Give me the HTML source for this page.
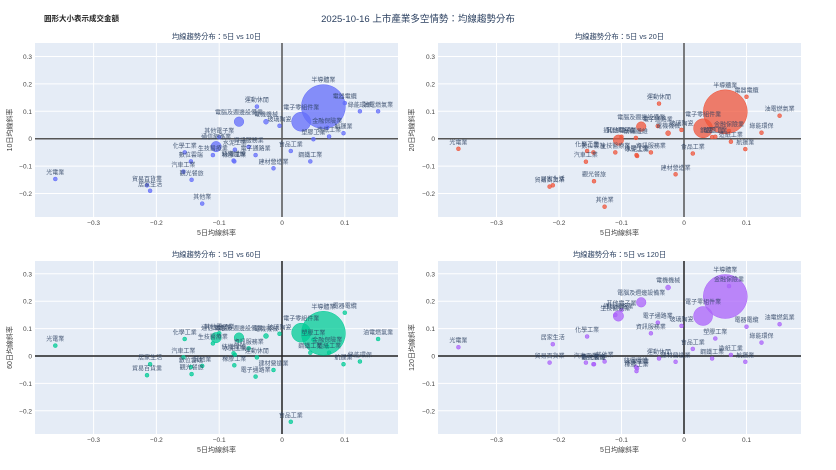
<!DOCTYPE html>
<html><head><meta charset="utf-8">
<style>
body{margin:0;background:#fff;}
svg{display:block;font-family:"Liberation Sans","Noto Sans CJK TC",sans-serif;}
</style></head>
<body>
<svg id="s" width="836" height="470" viewBox="0 0 836 470" xmlns="http://www.w3.org/2000/svg">
<text x="44" y="21" font-size="7.5" font-weight="bold" fill="#222">圓形大小表示成交金額</text>
<text x="418" y="22" font-size="9.5" fill="#2a3f5f" text-anchor="middle">2025-10-16 上市產業多空情勢：均線趨勢分布</text>
</svg>
<script>
var D=[
["半導體業",0.066,0.117,0.098,0.083,0.217,22],
["電子零組件業",0.0305,0.062,0.038,0.085,0.146,9.5],
["電腦及週邊設備業",-0.0685,0.062,0.044,0.067,0.196,4.8],
["通信網路業",-0.105,-0.029,-0.005,0.067,0.146,5.2],
["電機機械",-0.0255,0.062,0.02,0.073,0.25,2.5],
["金融保險業",0.072,0.04,0.028,0.035,0.255,2],
["電器電纜",0.1,0.13,0.153,0.158,0.107,2],
["油電燃氣業",0.153,0.1,0.084,0.062,0.116,2],
["綠能環保",0.124,0.1,0.022,-0.02,0.049,2],
["運動休閒",-0.04,0.117,0.128,-0.005,-0.009,2],
["玻璃陶瓷",-0.004,0.047,0.032,0.081,0.11,2],
["航運業",0.098,0.02,-0.038,-0.03,-0.021,2],
["造紙工業",0.075,0.008,-0.011,0.012,0.004,2],
["塑膠工業",0.05,-0.002,0.007,0.06,0.064,2],
["食品工業",0.014,-0.045,-0.054,-0.24,0.026,2],
["鋼鐵工業",0.045,-0.083,0.006,0.012,-0.009,2],
["建材營造業",-0.0135,-0.108,-0.13,-0.051,-0.021,2],
["電子通路業",-0.042,-0.06,0.046,-0.075,0.122,2],
["資訊服務業",-0.053,-0.03,-0.05,0.028,0.083,2],
["水泥工業",-0.075,-0.04,-0.063,0.004,-0.045,2],
["橡膠工業",-0.076,-0.083,-0.06,-0.034,-0.055,2],
["紡織纖維",-0.077,-0.08,0.003,0.01,-0.04,2],
["生技醫療業",-0.11,-0.06,-0.05,0.046,0.15,2],
["其他電子業",-0.1,0.005,0.007,0.083,0.168,2],
["化學工業",-0.155,-0.05,-0.045,0.062,0.071,2],
["數位雲端",-0.145,-0.083,-0.05,-0.04,-0.03,2],
["汽車工業",-0.157,-0.12,-0.084,-0.005,-0.024,2],
["觀光餐旅",-0.144,-0.15,-0.155,-0.066,-0.03,2],
["光電業",-0.361,-0.147,-0.037,0.038,0.032,2],
["貿易百貨業",-0.215,-0.17,-0.175,-0.07,-0.024,2],
["居家生活",-0.21,-0.19,-0.17,-0.03,0.043,2],
["其他業",-0.127,-0.237,-0.248,-0.036,-0.02,2]
];
var P=[
{x0:35,x1:398,xz:282,xs:628,y0:43,y1:217,yz:138.7,ys:274,c:"#636efa",t:"均線趨勢分布：5日 vs 10日",yl:"10日均線斜率",ylx:12,k:2,zc:"#555"},
{x0:438,x1:801,xz:684,xs:625,y0:43,y1:217,yz:138.7,ys:274,c:"#ef553b",t:"均線趨勢分布：5日 vs 20日",yl:"20日均線斜率",ylx:414,k:3,zc:"#555"},
{x0:35,x1:398,xz:282,xs:628,y0:261,y1:434,yz:356,ys:274,c:"#00cc96",t:"均線趨勢分布：5日 vs 60日",yl:"60日均線斜率",ylx:12,k:4,zc:"#222"},
{x0:438,x1:801,xz:684,xs:625,y0:261,y1:434,yz:356,ys:274,c:"#ab63fa",t:"均線趨勢分布：5日 vs 120日",yl:"120日均線斜率",ylx:414,k:5,zc:"#222"}
];
var h="";
P.forEach(function(p){
 h+='<rect x="'+p.x0+'" y="'+p.y0+'" width="'+(p.x1-p.x0)+'" height="'+(p.y1-p.y0)+'" fill="#e5ecf6"/>';
 [-0.3,-0.2,-0.1,0.1].forEach(function(v){var X=p.xz+v*p.xs;
  h+='<line x1="'+X+'" x2="'+X+'" y1="'+p.y0+'" y2="'+p.y1+'" stroke="#fff" stroke-width="1"/>';
  h+='<text x="'+X+'" y="'+(p.y1+8)+'" font-size="6.5" fill="#444" text-anchor="middle">'+(v<0?'−':'')+Math.abs(v)+'</text>';});
 h+='<text x="'+p.xz+'" y="'+(p.y1+8)+'" font-size="6.5" fill="#444" text-anchor="middle">0</text>';
 [0.3,0.2,0.1,-0.1,-0.2].forEach(function(v){var Y=p.yz-v*p.ys;
  h+='<line x1="'+p.x0+'" x2="'+p.x1+'" y1="'+Y+'" y2="'+Y+'" stroke="#fff" stroke-width="1"/>';
  h+='<text x="'+(p.x0-3)+'" y="'+(Y+2.5)+'" font-size="6.5" fill="#444" text-anchor="end">'+(v<0?'−':'')+Math.abs(v)+'</text>';});
 h+='<text x="'+(p.x0-3)+'" y="'+(p.yz+2.5)+'" font-size="6.5" fill="#444" text-anchor="end">0</text>';
 h+='<line x1="'+p.x0+'" x2="'+p.x1+'" y1="'+p.yz+'" y2="'+p.yz+'" stroke="'+p.zc+'" stroke-width="1.5"/>';
 h+='<line x1="'+p.xz+'" x2="'+p.xz+'" y1="'+p.y0+'" y2="'+p.y1+'" stroke="'+p.zc+'" stroke-width="1.5"/>';
 h+='<text x="'+((p.x0+p.x1)/2)+'" y="'+(p.y0-4)+'" font-size="7.3" fill="#2a3f5f" text-anchor="middle">'+p.t+'</text>';
 h+='<text x="'+((p.x0+p.x1)/2)+'" y="'+(p.y1+18)+'" font-size="7" fill="#444" text-anchor="middle">5日均線斜率</text>';
 var cy=(p.y0+p.y1)/2;
 h+='<text x="'+p.ylx+'" y="'+cy+'" font-size="7" fill="#444" text-anchor="middle" transform="rotate(-90 '+p.ylx+' '+cy+')">'+p.yl+'</text>';
 var pts="",lbl="";
 D.forEach(function(d){var X=p.xz+d[1]*p.xs,Y=p.yz-d[p.k]*p.ys,r=d[6];
  pts+='<circle cx="'+X.toFixed(1)+'" cy="'+Y.toFixed(1)+'" r="'+r+'" fill="'+p.c+'" fill-opacity="0.75" stroke="'+p.c+'" stroke-width="0.5"/>';
  lbl+='<text x="'+X.toFixed(1)+'" y="'+(Y-r-2.5).toFixed(1)+'" font-size="6" fill="#2a3f5f" fill-opacity="0.85" text-anchor="middle">'+d[0]+'</text>';});
 h+=pts+lbl;
});
document.getElementById("s").insertAdjacentHTML("beforeend",h);
</script>
</body></html>
